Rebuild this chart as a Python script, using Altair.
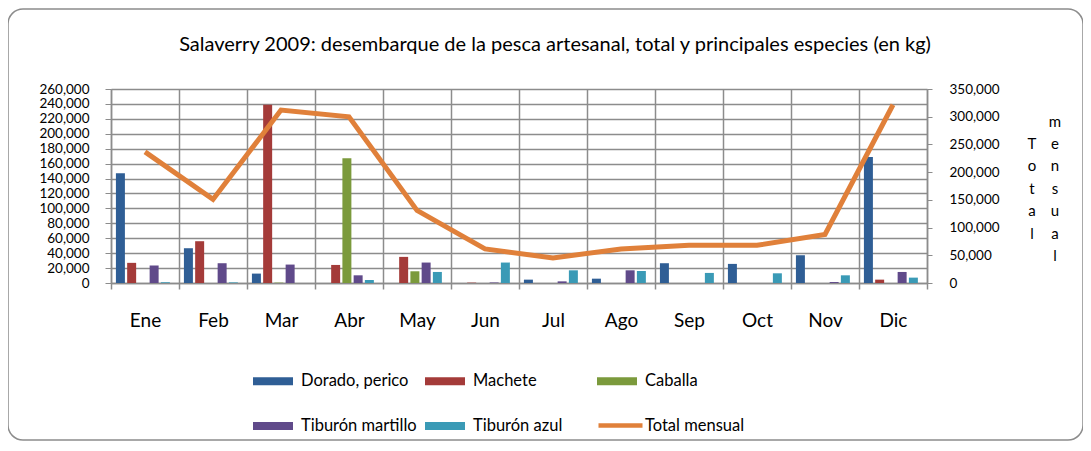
import altair as alt
import pandas as pd

months = ["Ene", "Feb", "Mar", "Abr", "May", "Jun", "Jul", "Ago", "Sep", "Oct", "Nov", "Dic"]
species = ["Dorado, perico", "Machete", "Caballa", "Tiburón martillo", "Tiburón azul"]
dorado = [147000, 46600, 12600, 0, 0, 0, 4500, 5800, 26500, 25600, 37200, 169000]
machete = [27000, 56000, 239000, 24200, 35000, 500, 0, 0, 0, 0, 0, 4500]
caballa = [0, 0, 500, 167300, 15700, 0, 0, 0, 0, 0, 0, 0]
martillo = [23300, 26500, 24700, 10300, 27400, 700, 2200, 17000, 0, 0, 1300, 14800]
azul = [1000, 800, 0, 4000, 14800, 27400, 17000, 16100, 13500, 13000, 10300, 7200]
total = [236500, 150800, 312000, 299900, 130900, 61500, 45300, 61500, 68000, 68000, 87500, 321600]
total_name = "Total mensual"
title_text = "Salaverry 2009: desembarque de la pesca artesanal, total y principales especies (en kg)"
right_title_words = ["Total", "mensual"]
left_ticks = list(range(0, 260001, 20000))
right_ticks = list(range(0, 350001, 50000))

bar_colors = ["#2F5E95", "#A43B39", "#7B9A3C", "#604A8A", "#3A9AB6"]
line_color = "#E0803A"
FONT = "Lato"

series_vals = [dorado, machete, caballa, martillo, azul]
rows = []
for sp, vals in zip(species, series_vals):
    for m, v in zip(months, vals):
        rows.append({"mes": m, "especie": sp, "kg": v})
bars_df = pd.DataFrame(rows)
line_df = pd.DataFrame({"mes": months, "kg": total, "serie": [total_name] * len(months)})

W, H = 816, 194

bar_legend = alt.Legend(
    title=None, orient="none", legendX=142, legendY=272, direction="horizontal",
    columns=3, gridAlign="all", columnPadding=8, rowPadding=16,
    labelFont=FONT, labelFontSize=16.5, labelColor="#000000", labelOffset=8,
    symbolSize=1600, symbolType="M-1,-0.2H1V0.2H-1Z", symbolStrokeWidth=0,
)
line_legend = alt.Legend(
    title=None, orient="none", legendX=485, legendY=312, direction="horizontal",
    labelFont=FONT, labelFontSize=16.5, labelColor="#000000", labelOffset=0,
    symbolSize=1936, symbolType="stroke", symbolStrokeWidth=4.5,
)

xaxis = alt.Axis(tickBand="extent", grid=True, gridColor="#8C8C8C", gridWidth=1.5,
                 domainColor="#8C8C8C", domainWidth=1.5, tickColor="#8C8C8C", tickWidth=1.5,
                 tickSize=6, labelAngle=0, labelFont=FONT, labelFontSize=19,
                 labelPadding=22, labelColor="#000000")
xenc = alt.X("mes:N", sort=months, title=None,
             scale=alt.Scale(paddingInner=0, paddingOuter=0), axis=xaxis)

one = pd.DataFrame({"k": [0]})

border = alt.Chart(one).mark_rect(fill="transparent", stroke="#8C8C8C", strokeWidth=1.5, cornerRadius=15).encode(
    x=alt.value(-103), x2=alt.value(972), y=alt.value(-80), y2=alt.value(351))

bars = alt.Chart(bars_df).mark_bar(strokeWidth=0).encode(
    x=xenc,
    xOffset=alt.XOffset("especie:N", sort=species,
                        scale=alt.Scale(paddingInner=0.2, paddingOuter=0.625, align=0.35)),
    y=alt.Y("kg:Q", title=None,
            scale=alt.Scale(domain=[0, 260000], nice=False),
            axis=alt.Axis(values=left_ticks, format=",.0f", grid=True, gridColor="#8C8C8C", gridWidth=1.5,
                          domainColor="#8C8C8C", domainWidth=1.5, tickColor="#8C8C8C", tickSize=6,
                          labelFont=FONT, labelFontSize=13.5, labelPadding=16, labelColor="#000000")),
    color=alt.Color("especie:N", sort=species, scale=alt.Scale(domain=species, range=bar_colors),
                    legend=bar_legend),
)

line = alt.Chart(line_df).mark_line(strokeWidth=5, strokeCap="butt", strokeJoin="miter").encode(
    x=alt.X("mes:N", sort=months),
    y=alt.Y("kg:Q", title=None,
            scale=alt.Scale(domain=[0, 350000], nice=False),
            axis=alt.Axis(orient="right", values=right_ticks, format=",.0f", grid=False,
                          domainColor="#8C8C8C", domainWidth=1.5, tickColor="#8C8C8C", tickSize=5,
                          labelFont=FONT, labelFontSize=13.5, labelPadding=17, labelColor="#000000")),
    color=alt.Color("serie:N", scale=alt.Scale(domain=[total_name], range=[line_color]),
                    legend=line_legend),
)

title = alt.Chart(one).mark_text(font=FONT, fontSize=20, color="#000000", align="center", baseline="middle").encode(
    x=alt.value(444), y=alt.value(-44), text=alt.value(title_text))

rt1 = alt.Chart(pd.DataFrame({"w": [right_title_words[0]]})).transform_calculate(
    letters="split(datum.w, '')").mark_text(
    font=FONT, fontSize=15, color="#000000", align="center", baseline="middle", lineHeight=22.6).encode(
    x=alt.value(921), y=alt.value(54.5), text="letters:N")
rt2 = alt.Chart(pd.DataFrame({"w": [right_title_words[1]]})).transform_calculate(
    letters="split(datum.w, '')").mark_text(
    font=FONT, fontSize=15, color="#000000", align="center", baseline="middle", lineHeight=22.4).encode(
    x=alt.value(944), y=alt.value(32.5), text="letters:N")

chart = alt.layer(border, bars, line, title, rt1, rt2).resolve_scale(
    y="independent", color="independent"
).properties(
    width=W, height=H,
    autosize=alt.AutoSizeParams(type="none"),
    padding={"left": 103, "top": 81, "right": 1075 - 103 - W, "bottom": 159},
).configure_view(stroke=None).configure(background="white")

chart.save("out.html", embed_options={"renderer": "svg", "actions": False})
